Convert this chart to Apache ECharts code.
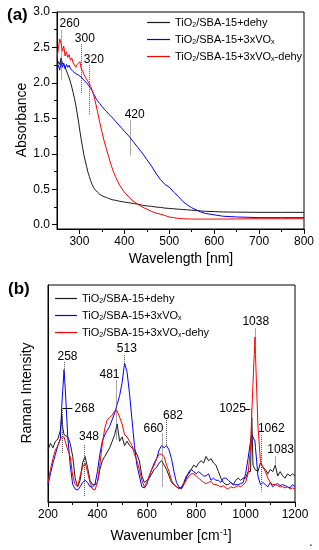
<!DOCTYPE html>
<html><head><meta charset="utf-8">
<script src="https://cdn.jsdelivr.net/npm/echarts@6/dist/echarts.min.js"></script>
<style>html,body{margin:0;padding:0;background:#fff}#c{width:319px;height:550px}</style>
</head><body><div id="c"></div>
<script>
const NAMES = ['TiO2/SBA-15+dehy', 'TiO2/SBA-15+3xVOx', 'TiO2/SBA-15+3xVOx-dehy'];
const COLORS = ['#1a1a1a', '#0000ff', '#ff0000'];

// ---- Panel (a): UV-vis ----
const wavelength = [250,253,256,259,262,265,268,271,274,277,280,283,286,289,292,295,298,301,304,307,310,313,316,319,322,325,328,331,334,337,340,
  345,350,355,360,365,370,375,380,
  390,400,410,420,430,440,450,460,470,480,490,500,510,520,530,540,550,560,570,580,
  600,620,650,700,750,800];
const absDehy = [2.22,2.30,2.26,2.35,2.28,2.25,2.22,2.17,2.12,2.07,2.01,1.94,1.86,1.78,1.68,1.57,1.45,1.32,1.20,1.09,0.98,0.90,0.82,0.74,0.68,0.62,0.57,0.53,0.50,0.48,0.46,
  0.43,0.41,0.395,0.385,0.37,0.36,0.35,0.345,
  0.33,0.32,0.31,0.30,0.29,0.275,0.265,0.26,0.25,0.245,0.235,0.23,0.225,0.22,0.215,0.21,0.205,0.20,0.195,0.19,
  0.185,0.18,0.178,0.175,0.175,0.175];
const absVOx = [2.20,2.25,2.18,2.30,2.22,2.28,2.20,2.26,2.22,2.25,2.20,2.22,2.16,2.18,2.13,2.15,2.11,2.12,2.08,2.09,2.04,2.05,2.00,1.99,1.95,1.92,1.89,1.85,1.82,1.78,1.75,
  1.71,1.67,1.63,1.60,1.56,1.53,1.50,1.46,
  1.39,1.32,1.25,1.17,1.09,1.01,0.92,0.83,0.73,0.64,0.57,0.53,0.46,0.40,0.33,0.28,0.24,0.21,0.18,0.16,
  0.14,0.12,0.11,0.10,0.10,0.10];
const absVOxDehy = [2.35,2.48,2.62,2.56,2.45,2.52,2.38,2.44,2.36,2.40,2.32,2.35,2.28,2.25,2.22,2.26,2.24,2.30,2.20,2.17,2.12,2.08,2.06,2.02,1.99,1.95,1.90,1.84,1.77,1.69,1.60,
  1.45,1.31,1.18,1.07,0.96,0.85,0.76,0.68,
  0.55,0.46,0.39,0.33,0.29,0.25,0.22,0.19,0.165,0.15,0.13,0.11,0.10,0.09,0.085,0.082,0.08,0.08,0.08,0.08,
  0.08,0.08,0.082,0.085,0.085,0.085];
const wlTicks = [300,400,500,600,700,800];
const wlMinorTicks = [350,450,550,650,750];
const absTicks = [0,0.5,1,1.5,2,2.5,3];
const absMinorTicks = [0.25,0.75,1.25,1.75,2.25,2.75];
const uvPeakLabels = ['260','300','320','420'];
const uvPeakLabelPos = [[278,2.84],[312,2.62],[332,2.33],[423,1.55]];
const uvPeakLines = [[260,2.74,2.04],[304,2.55,1.85],[322,2.25,1.55],[413,1.47,0.98]];

// ---- Panel (b): Raman ----
const wavenumber = [200,210,220,230,240,250,256,260,265,270,280,290,300,310,320,330,340,350,360,370,380,390,
  400,410,420,430,440,450,460,470,480,490,500,510,520,530,540,550,560,570,580,590,
  600,610,620,630,640,650,660,670,680,690,700,710,720,730,740,750,760,770,780,790,
  800,810,820,830,840,850,860,870,880,890,900,910,920,930,940,950,960,970,980,990,
  1000,1010,1020,1025,1030,1038,1040,1050,1060,1070,1080,1090,1100,1110,1120,1130,1140,1150,1160,1170,1180,1190,1200];
const ramanDehy = [24,27,25,28,29,33,40,34,31,31,30,27,21,11,7,10,18,21,16,10,8,8,
  9,15,19,21,23,25,28,31,36,28,30,26,28,26,25,24,22,19,12,9,
  10,11,13,15,16,18,19,17,15,12,9,8,7,6.5,6.5,9,12,13,15,17,
  16,18,19,18,21,19,20,18,17,14,11,9,8,8,9,8,10,11,10,11,
  11,14,14,39,17,15,15,14,18,16,15,13,15,14,17,12,14,12,11,13,12,13,12];
const ramanVOx = [8,13,18,22,26,29,45,52,61,52,30,17,8,6,5.5,7,9,10,9,7,7,8,
  14,22,28,31,33,35,38,41,45,49,55,64,60,50,38,26,17,12,7,6.5,
  8,12,15,18,20,24,26,25,26,24,20,14,9,7,6,8,11,14,15,14,
  13,14,13,12,12,13,10,11,10,10,9,11,11,10,9,8,8,8,8.5,9,
  13,20,28,31,31,28,25,12,8,9,8,7,9,7,8,8.5,7.5,8,7.5,7,6.5,8,7];
const ramanVOxDehy = [9,15,20,24,26,29,30,30,30,28,24,21,12,8,7,12,16,18,14,9,6,5.5,
  9,17,27,34,38,39,40,42,42,39,36,31,30,28,26,22,19,15,10,7,
  9,12,15,17,20,22,22,21,17,14,10,8,7,6,7,8.5,10,12,13,13,
  12,11,10,9,8.5,9,9.5,8,8,7.5,7,7.5,6.5,6,7,6.5,7,7.5,7,8,
  9,13,25,41,55,76,68,35,19,16,14,11,9,8,8,7.5,7,7,6.5,7,6,6.5,6];
const wnTicks = [200,400,600,800,1000,1200];
const wnMinorTicks = [300,500,700,900,1100];
const ramanPeakLabels = ['258','268','348','481','513','660','682','1025','1038','1062','1083'];
const ramanPeakLabelPos = [[279,67],[348,43],[366,30],[449,58.5],[519,70.8],[627,33.6],[706,40],[947,42.9],[1041,83],[1104,33.6],[1142,24]];
const ramanPeakLines = [[265,64.6,60],[256,42.4,22.4],[347,26.3,2.5],[476,56,28.6],[509,67.7,64],[661,31.6,7],[679,37.8,26],[1022,42.9,26],[1038,80,73],[1062,30.9,4.8],[1121,20.9,16.3]];
const ramanLeaders = [[258.6,298.6,43],[996,1018,42.9]];

const FONT = 'Liberation Sans, Arial, sans-serif';
function richName(name) {
  return name.replace('TiO2', '{n|TiO}{s|2}{n|').replace('VOx', 'VO}{s|x}{n|') + '}';
}
const legendRich = {
  n: { fontSize: 11, fontFamily: FONT, color: '#000', lineHeight: 13 },
  s: { fontSize: 7, fontFamily: FONT, color: '#000', lineHeight: 8, verticalAlign: 'bottom' }
};
function pairs(xs, ys) { return xs.map((x, i) => [x, ys[i]]); }

const axisLine = { show: true, onZero: false, lineStyle: { color: '#000', width: 1 } };
const axisLabelStyle = { color: '#000', fontSize: 12, fontFamily: FONT, formatter: v => String(v) };

function lineSeries(name, idx, xs, ys, axisIdx) {
  return {
    type: 'line', name: name, xAxisIndex: axisIdx.x, yAxisIndex: axisIdx.y,
    data: pairs(xs, ys), symbol: 'none', smooth: false,
    lineStyle: { color: COLORS[idx], width: 1 }, itemStyle: { color: COLORS[idx] },
    silent: true, z: 3 + idx
  };
}
function annotSeries(axisIdx, labels, labelPos, lines, leaders) {
  const md = lines.map(l => [{ coord: [l[0], l[1]] }, { coord: [l[0], l[2]] }]);
  (leaders || []).forEach(l => md.push([{ coord: [l[0], l[2]], lineStyle: { type: 'solid', color: '#000' } }, { coord: [l[1], l[2]] }]));
  return {
    type: 'scatter', xAxisIndex: axisIdx.x, yAxisIndex: axisIdx.y,
    data: labelPos, symbolSize: 0, silent: true, z: 10,
    itemStyle: { color: '#000', opacity: 1 },
    label: { show: true, position: [0, 0], align: 'center', verticalAlign: 'middle',
      color: '#000', fontSize: 12, fontFamily: FONT, opacity: 1,
      formatter: p => labels[p.dataIndex] },
    markLine: { silent: true, symbol: ['none', 'none'], label: { show: false },
      lineStyle: { type: 'dotted', color: '#555', width: 1 }, data: md, animation: false }
  };
}
const legendBase = {
  data: NAMES, orient: 'vertical', icon: 'rect', itemWidth: 23, itemHeight: 1.2, itemGap: 5,
  formatter: richName, textStyle: { rich: legendRich }, selectedMode: false,
  itemStyle: { borderWidth: 0 }, lineStyle: { width: 0 }
};

const chart = echarts.init(document.getElementById('c'), null, { renderer: 'canvas' });
const option = {
  animation: false,
  backgroundColor: '#fff',
  grid: [
    { left: 57, top: 12, right: 15, bottom: 321, show: true, borderColor: '#000', borderWidth: 1, backgroundColor: 'transparent' },
    { left: 48, top: 285, right: 24, bottom: 48, show: true, borderColor: '#000', borderWidth: 1, backgroundColor: 'transparent' }
  ],
  xAxis: [
    { type: 'value', gridIndex: 0, position: 'bottom', min: 250, max: 800, axisLine: axisLine,
      axisLabel: Object.assign({ customValues: wlTicks, margin: 7 }, axisLabelStyle),
      axisTick: { customValues: wlTicks, length: 5, inside: false, lineStyle: { color: '#000' } },
      splitLine: { show: false } },
    { type: 'value', gridIndex: 0, position: 'bottom', min: 250, max: 800, axisLine: { show: false, onZero: false },
      axisLabel: { show: false },
      axisTick: { customValues: wlMinorTicks, length: 3, lineStyle: { color: '#000' } },
      splitLine: { show: false } },
    { type: 'value', gridIndex: 1, position: 'bottom', min: 200, max: 1200, axisLine: axisLine,
      axisLabel: Object.assign({ customValues: wnTicks, margin: 7 }, axisLabelStyle),
      axisTick: { customValues: wnTicks, length: 5, lineStyle: { color: '#000' } },
      splitLine: { show: false } },
    { type: 'value', gridIndex: 1, position: 'bottom', min: 200, max: 1200, axisLine: { show: false, onZero: false },
      axisLabel: { show: false },
      axisTick: { customValues: wnMinorTicks, length: 3, lineStyle: { color: '#000' } },
      splitLine: { show: false } }
  ],
  yAxis: [
    { type: 'value', gridIndex: 0, position: 'left', min: -0.06, max: 3, axisLine: axisLine,
      axisLabel: Object.assign({}, axisLabelStyle, { customValues: absTicks, margin: 7, formatter: v => v.toFixed(1) }),
      axisTick: { customValues: absTicks, length: 5, lineStyle: { color: '#000' } },
      splitLine: { show: false } },
    { type: 'value', gridIndex: 0, position: 'left', min: -0.06, max: 3, axisLine: { show: false, onZero: false },
      axisLabel: { show: false },
      axisTick: { customValues: absMinorTicks, length: 3, lineStyle: { color: '#000' } },
      splitLine: { show: false } },
    { type: 'value', gridIndex: 1, position: 'left', min: 0, max: 100, axisLine: axisLine,
      axisLabel: { show: false }, axisTick: { show: false }, splitLine: { show: false } }
  ],
  legend: [
    Object.assign({}, legendBase, { left: 142, top: 12 }),
    Object.assign({}, legendBase, { left: 50, top: 288, itemWidth: 22 })
  ],
  series: [
    lineSeries(NAMES[0], 0, wavelength, absDehy, { x: 0, y: 0 }),
    lineSeries(NAMES[1], 1, wavelength, absVOx, { x: 0, y: 0 }),
    lineSeries(NAMES[2], 2, wavelength, absVOxDehy, { x: 0, y: 0 }),
    annotSeries({ x: 0, y: 0 }, uvPeakLabels, uvPeakLabelPos, uvPeakLines, []),
    lineSeries(NAMES[0], 0, wavenumber, ramanDehy, { x: 2, y: 2 }),
    lineSeries(NAMES[1], 1, wavenumber, ramanVOx, { x: 2, y: 2 }),
    lineSeries(NAMES[2], 2, wavenumber, ramanVOxDehy, { x: 2, y: 2 }),
    annotSeries({ x: 2, y: 2 }, ramanPeakLabels, ramanPeakLabelPos, ramanPeakLines, ramanLeaders)
  ],
  graphic: [
    { type: 'text', x: 7, y: 15, style: { text: '(a)', font: 'bold 17px ' + FONT, fill: '#000', verticalAlign: 'middle' } },
    { type: 'text', x: 22, y: 120, rotation: Math.PI / 2, style: { text: 'Absorbance', font: '14px ' + FONT, fill: '#000', align: 'center', verticalAlign: 'middle' } },
    { type: 'text', x: 181, y: 259, style: { text: 'Wavelength [nm]', font: '14px ' + FONT, fill: '#000', align: 'center', verticalAlign: 'middle' } },
    { type: 'text', x: 8, y: 289, style: { text: '(b)', font: 'bold 17px ' + FONT, fill: '#000', verticalAlign: 'middle' } },
    { type: 'text', x: 27, y: 393, rotation: Math.PI / 2, style: { text: 'Raman Intensity', font: '14px ' + FONT, fill: '#000', align: 'center', verticalAlign: 'middle' } },
    { type: 'text', x: 171, y: 536, style: { text: '{n|Wavenumber [cm}{s|-1}{n|]}', align: 'center', verticalAlign: 'middle',
      rich: { n: { fontSize: 14, fontFamily: FONT, fill: '#000', color: '#000', lineHeight: 16 },
              s: { fontSize: 9, fontFamily: FONT, fill: '#000', color: '#000', lineHeight: 9, verticalAlign: 'top' } } } },
    { type: 'text', x: 311, y: 543, style: { text: '.', font: '12px ' + FONT, fill: '#000', align: 'center', verticalAlign: 'middle' } }
  ]
};
chart.setOption(option);
</script>
</body></html>
